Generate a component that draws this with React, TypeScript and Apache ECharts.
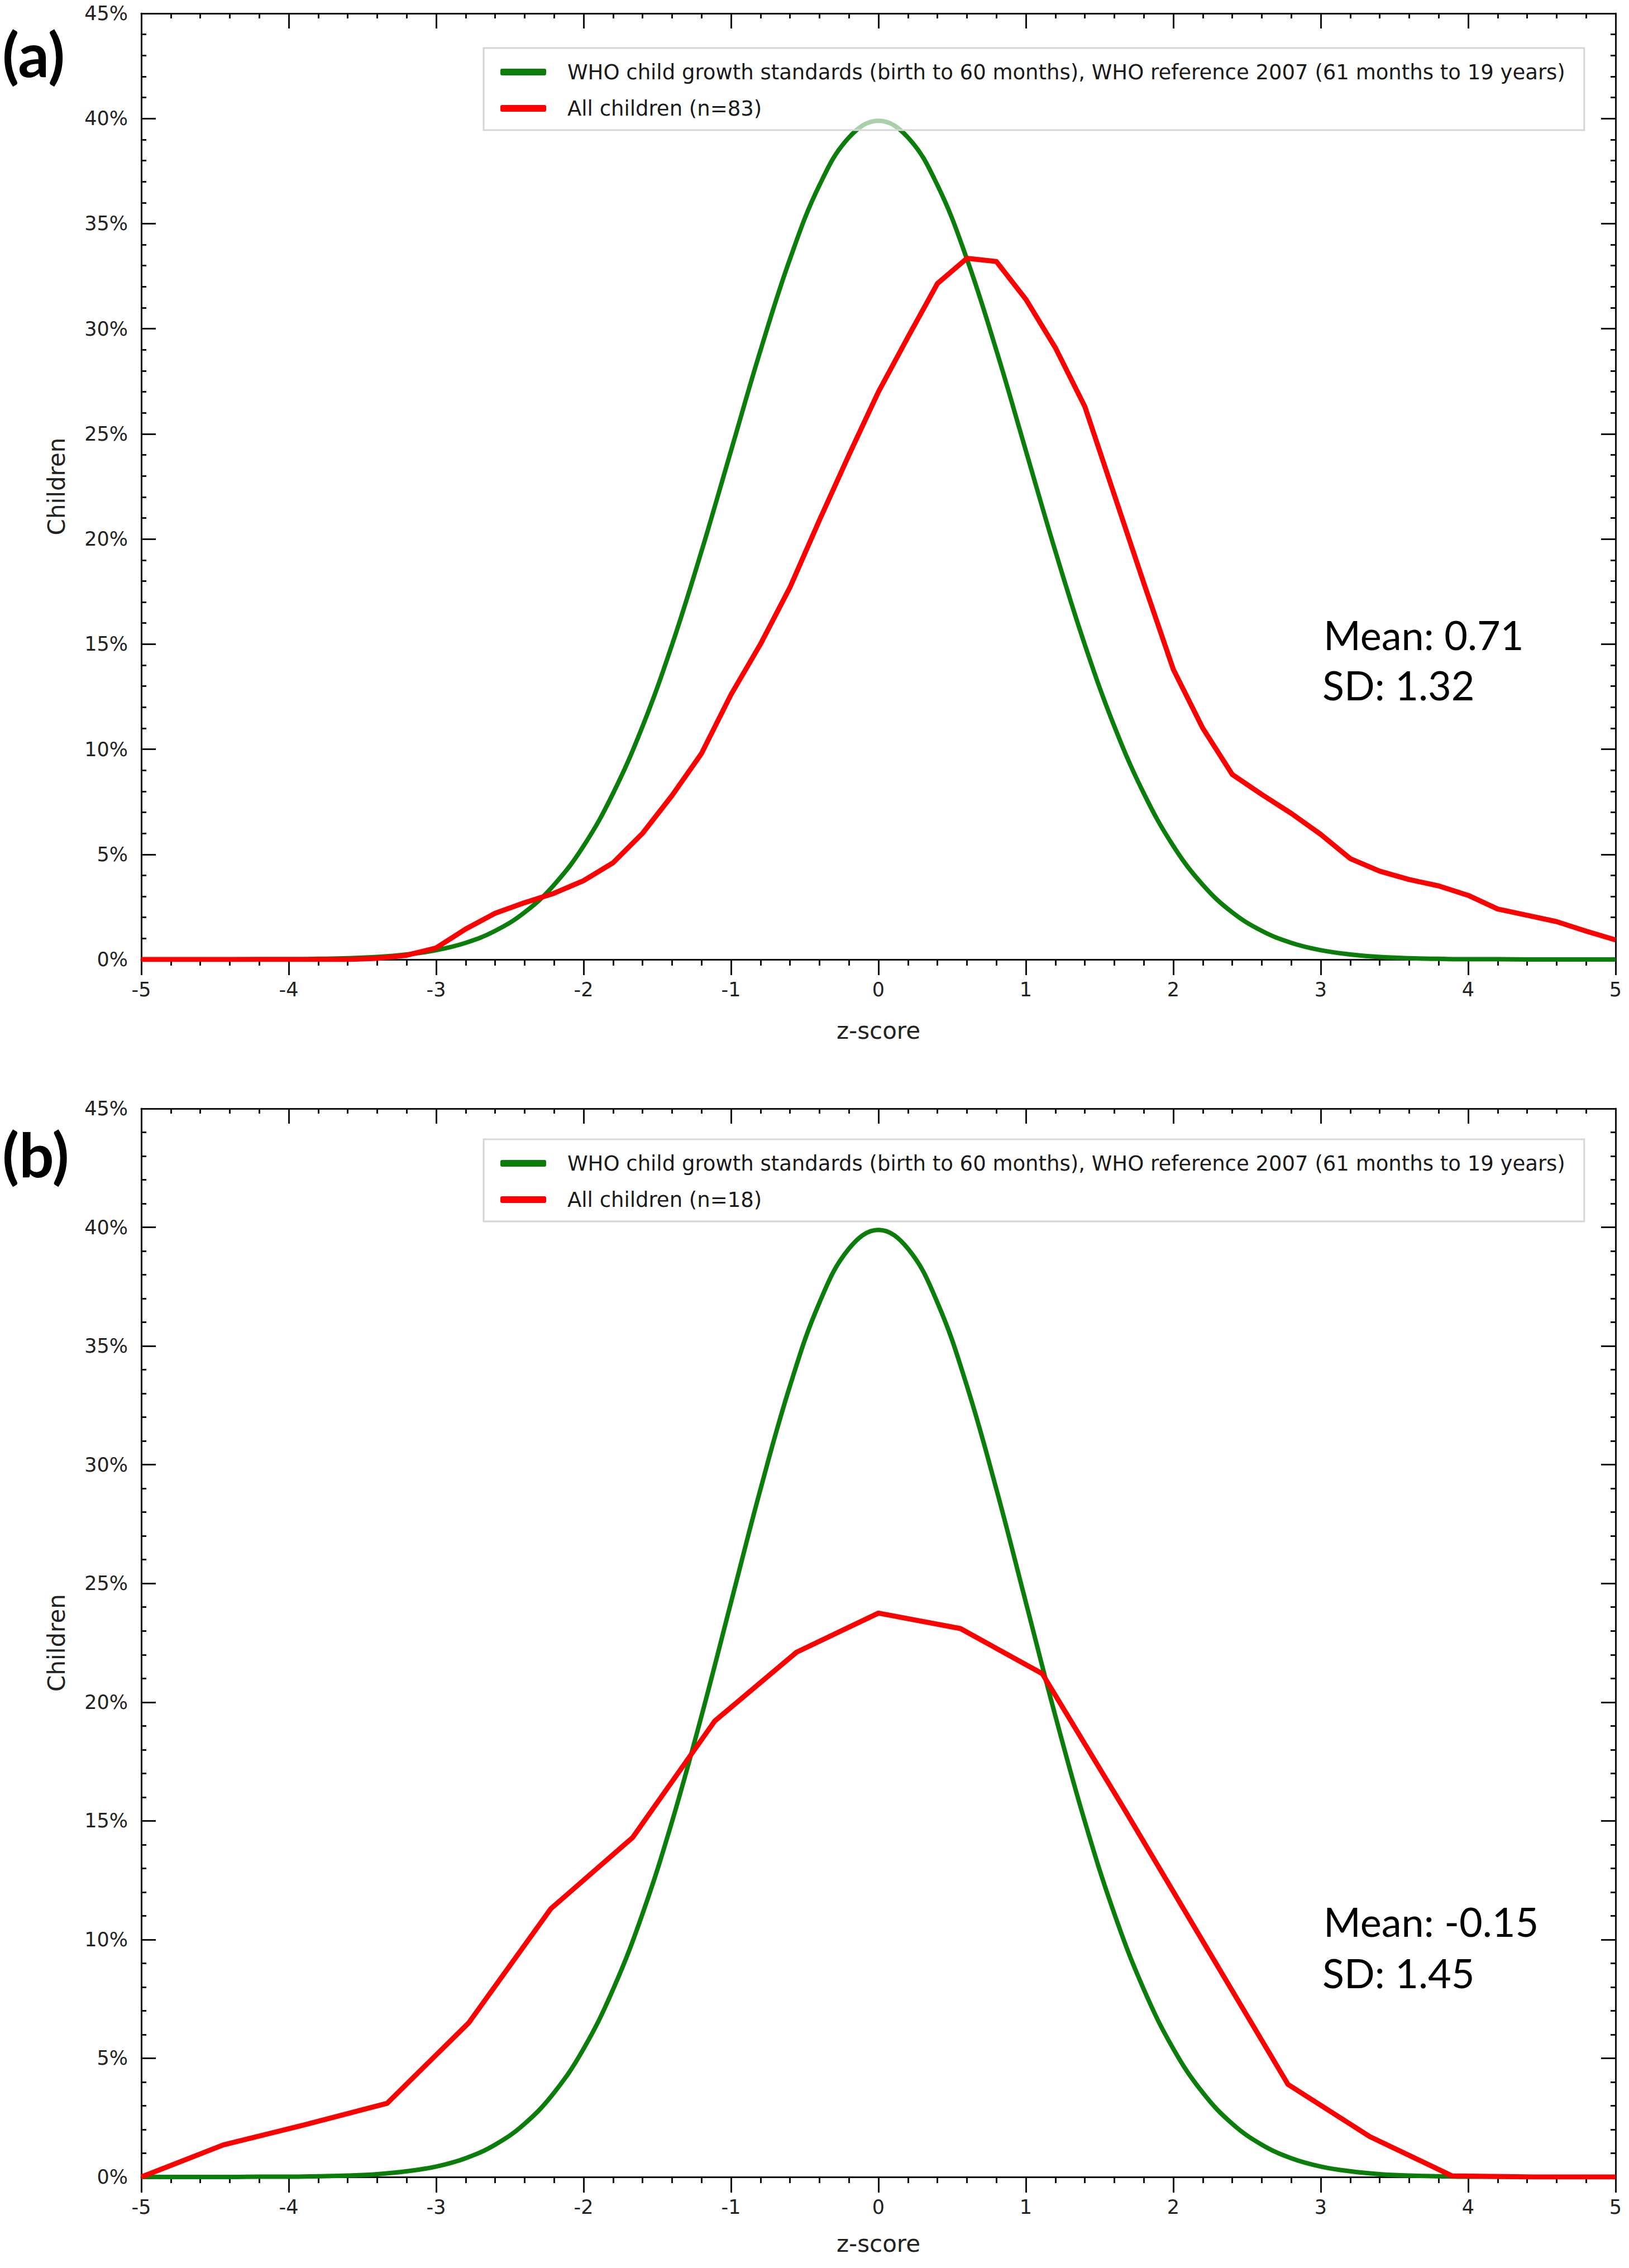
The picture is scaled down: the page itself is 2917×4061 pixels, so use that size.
import React, { useEffect, useRef } from 'react';
import * as echarts from 'echarts';

const W = 2917;
const H = 4061;

const GREEN = '#0b7d0b';
const RED = '#ff0000';

// z-score grid shared by the WHO curve and panel (a)
const zGrid = [
  -5, -4.8, -4.6, -4.4, -4.2, -4, -3.8, -3.6, -3.4, -3.2,
  -3, -2.8, -2.6, -2.4, -2.2, -2, -1.8, -1.6, -1.4, -1.2,
  -1, -0.8, -0.6, -0.4, -0.2, 0, 0.2, 0.4, 0.6, 0.8,
  1, 1.2, 1.4, 1.6, 1.8, 2, 2.2, 2.4, 2.6, 2.8,
  3, 3.2, 3.4, 3.6, 3.8, 4, 4.2, 4.4, 4.6, 4.8, 5,
];

// WHO reference curve (% of children)
const whoPct = [
  0, 0, 0, 0, 0.01, 0.01, 0.03, 0.06, 0.12, 0.24,
  0.44, 0.79, 1.36, 2.24, 3.55, 5.4, 7.9, 11.09, 14.97, 19.42,
  24.2, 28.97, 33.32, 36.83, 39.1, 39.89, 39.1, 36.83, 33.32, 28.97,
  24.2, 19.42, 14.97, 11.09, 7.9, 5.4, 3.55, 2.24, 1.36, 0.79,
  0.44, 0.24, 0.12, 0.06, 0.03, 0.01, 0.01, 0, 0, 0, 0,
];

// panel (a): all children, n=83
const childrenA = [
  0, 0, 0, 0, 0, 0, 0, 0, 0.05, 0.2,
  0.55, 1.45, 2.2, 2.7, 3.15, 3.75, 4.6, 6.0, 7.8, 9.8,
  12.6, 15.0, 17.7, 20.9, 24.0, 27.0, 29.6, 32.15, 33.35, 33.2,
  31.4, 29.1, 26.3, 22.1, 17.9, 13.8, 11.0, 8.8, 7.85, 6.95,
  5.95, 4.8, 4.2, 3.8, 3.5, 3.05, 2.4, 2.1, 1.8, 1.35, 0.93,
];

// panel (b): all children, n=18
const zGridB = [
  -5, -4.444, -3.889, -3.333, -2.778, -2.222, -1.667, -1.111, -0.556, 0,
  0.556, 1.111, 1.667, 2.222, 2.778, 3.333, 3.889, 4.444, 5,
];
const childrenB = [
  0, 1.35, 2.2, 3.1, 6.5, 11.3, 14.3, 19.2, 22.1, 23.75,
  23.1, 21.2, 15.5, 9.7, 3.9, 1.7, 0.05, 0, 0,
];

const whoName = 'WHO child growth standards (birth to 60 months), WHO reference 2007 (61 months to 19 years)';
const nameA = 'All children (n=83)';
const nameB = 'All children (n=18)';

const panels = [
  { tag: '(a)', tagY: 95, top: 24, height: 1694, legendTop: 86, redName: nameA, xs: zGrid, ys: childrenA, mean: 'Mean: 0.71', sd: 'SD: 1.32', meanY: 1136, sdY: 1226, nameGap: 106 },
  { tag: '(b)', tagY: 2065, top: 1985, height: 1913, legendTop: 2040, redName: nameB, xs: zGridB, ys: childrenB, mean: 'Mean: -0.15', sd: 'SD: 1.45', meanY: 3440, sdY: 3532, nameGap: 98 },
];

const zip = (xs: number[], ys: number[]) => xs.map((x, i) => [x, ys[i]]);

const AXIS_COLOR = '#111';
const SMALL_FONT = 'DejaVu Sans';

const App: React.FC = () => {
  const ref = useRef<HTMLDivElement>(null);

  useEffect(() => {
    if (!ref.current) return;
    const chart = echarts.init(ref.current, undefined, { renderer: 'svg' });

    const grid: any[] = [];
    const xAxis: any[] = [];
    const yAxis: any[] = [];
    const legend: any[] = [];
    const series: any[] = [];
    const graphic: any[] = [];

    panels.forEach((p, gi) => {
      grid.push({ left: 253, width: 2640, top: p.top, height: p.height });

      const xBase = {
        type: 'value', gridIndex: gi, min: -5, max: 5, interval: 1,
        splitLine: { show: false },
        axisLine: { onZero: false, lineStyle: { color: AXIS_COLOR, width: 3 } },
      };
      xAxis.push({
        ...xBase,
        position: 'bottom',
        name: 'z-score', nameLocation: 'middle', nameGap: p.nameGap,
        nameTextStyle: { fontFamily: SMALL_FONT, fontSize: 42, color: '#222' },
        axisTick: { inside: false, length: 28, lineStyle: { color: AXIS_COLOR, width: 3 } },
        minorTick: { show: true, splitNumber: 5, length: 11, lineStyle: { color: AXIS_COLOR, width: 3 } },
        axisLabel: { margin: 36, fontFamily: SMALL_FONT, fontSize: 35, color: '#222' },
      });
      xAxis.push({
        ...xBase,
        position: 'top',
        axisTick: { inside: true, length: 27, lineStyle: { color: AXIS_COLOR, width: 3 } },
        minorTick: { show: true, splitNumber: 5, length: 9, lineStyle: { color: AXIS_COLOR, width: 3 } },
        axisLabel: { show: false },
      });

      const yBase = {
        type: 'value', gridIndex: gi, min: 0, max: 45, interval: 5,
        splitLine: { show: false },
        axisLine: { show: true, onZero: false, lineStyle: { color: AXIS_COLOR, width: 3 } },
        axisTick: { show: true, inside: true, length: 26, lineStyle: { color: AXIS_COLOR, width: 3 } },
        minorTick: { show: true, splitNumber: 5, length: 9, lineStyle: { color: AXIS_COLOR, width: 3 } },
      };
      yAxis.push({
        ...yBase,
        position: 'left',
        name: 'Children', nameLocation: 'middle', nameGap: 131,
        nameTextStyle: { fontFamily: SMALL_FONT, fontSize: 42, color: '#222' },
        axisLabel: { margin: 24, fontFamily: SMALL_FONT, fontSize: 35, color: '#222', formatter: '{value}%' },
      });
      yAxis.push({ ...yBase, position: 'right', axisLabel: { show: false } });

      legend.push({
        orient: 'vertical', left: 866, top: p.legendTop,
        padding: [22, 34, 18, 30],
        itemWidth: 82, itemHeight: 12, itemGap: 23,
        icon: 'roundRect',
        selectedMode: false,
        backgroundColor: 'rgba(255,255,255,0.65)',
        borderColor: '#d6d6d6', borderWidth: 3,
        textStyle: { fontFamily: SMALL_FONT, fontSize: 37, lineHeight: 42, color: '#1a1a1a', padding: [0, 0, 0, 33] },
        data: [whoName, p.redName],
      });

      series.push({
        type: 'line', name: whoName, xAxisIndex: gi * 2, yAxisIndex: gi * 2,
        data: zip(zGrid, whoPct), smooth: 0.4, showSymbol: false, z: 2,
        color: GREEN, lineStyle: { color: GREEN, width: 8 }, itemStyle: { color: GREEN },
      });
      series.push({
        type: 'line', name: p.redName, xAxisIndex: gi * 2, yAxisIndex: gi * 2,
        data: zip(p.xs, p.ys), smooth: false, showSymbol: false, z: 3,
        color: RED, lineStyle: { color: RED, width: 9, join: 'round' }, itemStyle: { color: RED },
      });

      graphic.push({
        type: 'text', x: 4, y: p.tagY,
        style: { text: p.tag, fontFamily: 'Lato', fontWeight: 'bold', fontSize: 110, fill: '#000', verticalAlign: 'middle' },
      });
      graphic.push({
        type: 'text', x: 2370, y: p.meanY,
        style: { text: p.mean, fontFamily: 'Lato', fontSize: 72, fill: '#000', verticalAlign: 'middle' },
      });
      graphic.push({
        type: 'text', x: 2368, y: p.sdY,
        style: { text: p.sd, fontFamily: 'Lato', fontSize: 72, fill: '#000', verticalAlign: 'middle' },
      });
    });

    chart.setOption({
      animation: false,
      backgroundColor: '#fff',
      grid, xAxis, yAxis, legend, series, graphic,
    });

    return () => chart.dispose();
  }, []);

  return <div ref={ref} style={{ position: 'absolute', left: 0, top: 0, width: W, height: H }} />;
};

export default App;
